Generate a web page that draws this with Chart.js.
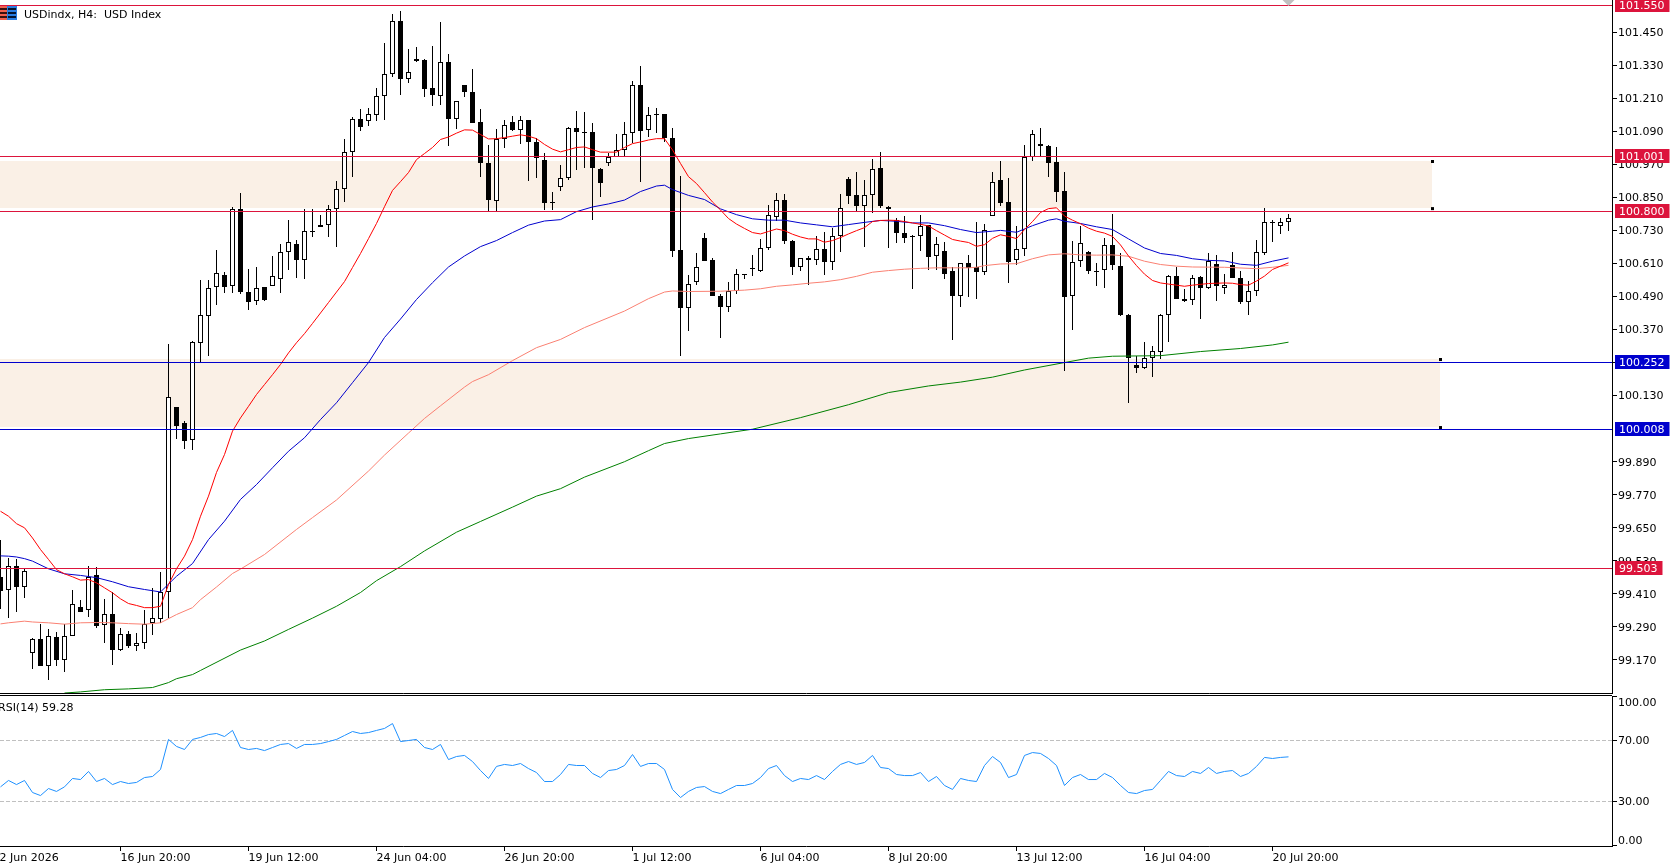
<!DOCTYPE html>
<html>
<head>
<meta charset="utf-8">
<title>USDindx, H4</title>
<style>
  html, body { margin: 0; padding: 0; background: #fff; overflow: hidden; }
  canvas { position: absolute; left: 0; display: block; }
  #priceChart { top: 0; }
  #rsiChart { top: 696px; }
  #rsiTopRule { position: absolute; left: 0; top: 695px; width: 1612px; height: 1px; background: #000; }
</style>
<script src="https://cdn.jsdelivr.net/npm/chart.js@4/dist/chart.umd.min.js"></script>
</head>
<body>
<canvas id="priceChart" width="1673" height="694"></canvas>
<div id="rsiTopRule"></div>
<canvas id="rsiChart" width="1673" height="172"></canvas>
<script>
// ── H4 candles, one entry per bar ──
const opens = [
  99.473,99.425,99.513,99.436,99.196,99.247,99.151,99.254,99.173,99.258,
  99.363,99.352,99.477,99.298,99.338,99.209,99.265,99.224,99.232,99.307,
  99.322,99.417,100.089,100.029,99.969,100.324,100.422,100.525,100.568,100.528,
  100.808,100.507,100.474,100.525,100.528,100.554,100.652,100.681,100.623,100.729,
  100.743,100.750,100.808,100.881,101.015,101.135,101.128,101.149,101.218,101.298,
  101.491,101.280,101.353,101.349,101.247,101.218,101.342,101.138,101.258,101.233,
  101.124,100.975,100.837,101.062,101.124,101.098,101.131,101.051,100.986,100.833,
  100.888,100.921,101.102,101.088,101.088,100.953,100.975,101.000,101.022,101.084,
  101.258,101.095,101.154,101.153,101.066,100.659,100.450,100.543,100.703,100.623,
  100.492,100.454,100.510,100.573,100.595,100.585,100.666,100.781,100.841,100.692,
  100.597,100.630,100.623,100.663,100.616,100.710,100.917,100.859,100.819,100.859,
  100.957,100.815,100.768,100.721,100.711,100.710,100.750,100.637,100.656,100.583,
  100.494,100.612,100.597,100.581,100.783,100.914,100.833,100.623,100.663,101.000,
  101.042,101.037,100.979,100.873,100.492,100.619,100.652,100.583,100.587,100.677,
  100.601,100.423,100.242,100.231,100.267,100.289,100.423,100.565,100.481,100.478,
  100.561,100.523,100.608,100.523,100.605,100.558,100.470,100.510,100.648,100.757,
  100.746,100.761
];
const highs = [
  99.607,99.542,99.538,99.504,99.250,99.302,99.284,99.273,99.299,99.425,
  99.388,99.513,99.509,99.392,99.417,99.287,99.276,99.269,99.350,99.432,
  99.490,100.318,100.089,100.036,100.328,100.548,100.551,100.657,100.579,100.815,
  100.867,100.590,100.597,100.525,100.637,100.681,100.769,100.695,100.808,100.808,
  100.784,100.823,100.910,101.062,101.142,101.171,101.175,101.247,101.411,101.516,
  101.527,101.389,101.396,101.353,101.400,101.487,101.371,101.200,101.258,101.316,
  101.171,101.040,101.098,101.131,101.146,101.146,101.131,101.066,101.011,100.870,
  100.968,101.106,101.164,101.160,101.120,100.957,101.011,101.080,101.124,101.273,
  101.327,101.178,101.175,101.153,101.102,100.928,100.568,100.648,100.721,100.630,
  100.499,100.544,100.590,100.573,100.642,100.700,100.823,100.866,100.863,100.695,
  100.630,100.637,100.710,100.725,100.740,100.863,100.924,100.942,100.913,100.990,
  101.015,100.819,100.775,100.783,100.714,100.786,100.750,100.706,100.688,100.597,
  100.612,100.641,100.761,100.754,100.942,100.982,100.921,100.746,101.040,101.095,
  101.102,101.040,101.033,100.942,100.692,100.746,100.656,100.611,100.703,100.790,
  100.648,100.427,100.272,100.325,100.311,100.427,100.568,100.597,100.518,100.568,
  100.565,100.648,100.641,100.572,100.652,100.583,100.547,100.695,100.812,100.768,
  100.775,100.790
];
const lows = [
  99.358,99.325,99.347,99.398,99.140,99.151,99.099,99.151,99.129,99.258,
  99.347,99.329,99.289,99.234,99.155,99.205,99.216,99.205,99.213,99.263,
  99.307,99.323,99.975,99.939,99.935,100.253,100.276,100.462,100.505,100.505,
  100.502,100.444,100.462,100.476,100.528,100.505,100.588,100.560,100.556,100.709,
  100.743,100.709,100.672,100.836,100.926,101.093,101.109,101.128,101.133,101.287,
  101.222,101.266,101.342,101.217,101.182,101.188,101.037,101.101,101.217,101.120,
  100.926,100.797,100.797,101.030,101.091,101.046,100.912,100.923,100.804,100.807,
  100.873,100.913,100.952,100.957,100.770,100.854,100.964,100.997,100.997,101.049,
  100.906,101.071,101.085,101.051,100.635,100.275,100.367,100.533,100.621,100.493,
  100.341,100.435,100.500,100.556,100.567,100.581,100.661,100.766,100.681,100.568,
  100.585,100.532,100.607,100.571,100.589,100.654,100.828,100.801,100.670,100.794,
  100.812,100.666,100.685,100.687,100.520,100.657,100.589,100.589,100.556,100.335,
  100.454,100.491,100.483,100.571,100.783,100.821,100.542,100.607,100.637,100.982,
  101.000,100.924,100.835,100.222,100.371,100.597,100.574,100.531,100.523,100.589,
  100.422,100.106,100.213,100.227,100.198,100.263,100.327,100.481,100.473,100.462,
  100.411,100.518,100.476,100.502,100.560,100.465,100.425,100.494,100.641,100.690,
  100.719,100.730
];
const closes = [
  99.423,99.512,99.438,99.494,99.247,99.151,99.258,99.173,99.258,99.374,
  99.347,99.473,99.296,99.338,99.209,99.265,99.224,99.232,99.301,99.322,
  99.417,100.125,100.021,99.968,100.325,100.423,100.521,100.576,100.527,100.808,
  100.509,100.473,100.521,100.480,100.565,100.652,100.688,100.623,100.728,100.727,
  100.750,100.808,100.881,101.015,101.135,101.106,101.153,101.218,101.298,101.491,
  101.280,101.305,101.348,101.244,101.222,101.342,101.138,101.200,101.233,101.120,
  100.975,100.843,101.062,101.113,101.098,101.131,101.053,100.993,100.830,100.830,
  100.921,101.102,101.088,101.085,100.957,100.902,100.997,101.022,101.080,101.258,
  101.091,101.149,101.150,101.066,100.657,100.450,100.536,100.597,100.621,100.493,
  100.453,100.510,100.572,100.570,100.591,100.666,100.786,100.841,100.692,100.597,
  100.630,100.623,100.663,100.616,100.710,100.812,100.855,100.819,100.859,100.953,
  100.819,100.808,100.723,100.705,100.706,100.746,100.636,100.681,100.574,100.494,
  100.612,100.594,100.581,100.732,100.906,100.832,100.618,100.663,100.997,101.080,
  101.038,100.977,100.872,100.491,100.616,100.685,100.585,100.580,100.677,100.605,
  100.423,100.267,100.231,100.267,100.292,100.423,100.565,100.483,100.475,100.558,
  100.521,100.619,100.528,100.532,100.560,100.473,100.510,100.652,100.761,100.761,
  100.761,100.775
];

// ── Moving averages ──
const fastMa = [
  99.710,99.692,99.665,99.650,99.613,99.571,99.535,99.498,99.483,99.472,
  99.460,99.462,99.450,99.432,99.414,99.392,99.375,99.368,99.360,99.360,
  99.365,99.444,99.501,99.547,99.607,99.692,99.765,99.851,99.916,100.001,
  100.049,100.091,100.134,100.170,100.206,100.243,100.285,100.322,100.355,100.392,
  100.430,100.468,100.506,100.544,100.595,100.646,100.700,100.755,100.816,100.875,
  100.907,100.940,100.987,101.009,101.031,101.060,101.069,101.083,101.095,101.094,
  101.078,101.062,101.063,101.067,101.072,101.077,101.072,101.063,101.042,101.025,
  101.015,101.023,101.031,101.033,101.023,101.014,101.014,101.014,101.031,101.045,
  101.051,101.058,101.063,101.063,101.022,100.973,100.925,100.900,100.867,100.833,
  100.804,100.773,100.753,100.737,100.722,100.717,100.726,100.735,100.729,100.716,
  100.706,100.699,100.699,100.687,100.693,100.704,100.717,100.729,100.740,100.762,
  100.766,100.767,100.766,100.762,100.757,100.752,100.746,100.729,100.713,100.697,
  100.691,100.686,100.672,100.678,100.701,100.714,100.708,100.700,100.733,100.762,
  100.795,100.809,100.812,100.782,100.767,100.754,100.738,100.727,100.720,100.708,
  100.677,100.637,100.602,100.571,100.548,100.539,100.535,100.531,100.527,100.531,
  100.534,100.537,100.538,100.539,100.538,100.533,100.531,100.546,100.564,100.588,
  100.600,100.612
];
const midMaBars = [0,1,2,3,4,6,8,10,12,14,16,18,20,22,24,26,28,30,32,34,36,38,40,42,44,46,48,50,52,54,56,58,60,62,64,66,68,70,72,74,76,78,80,82,83,84,86,88,90,92,94,96,98,100,102,104,106,108,110,112,114,116,118,120,122,124,125,127,129,131,132,133,135,137,139,141,143,145,147,149,151,153,155,157,159,161];
const midMa = [
  99.548,99.547,99.544,99.538,99.529,99.501,99.483,99.477,99.469,99.454,
  99.436,99.426,99.417,99.474,99.520,99.607,99.674,99.753,99.807,99.868,
  99.928,99.977,100.043,100.104,100.177,100.250,100.341,100.408,100.479,100.540,
  100.597,100.637,100.671,100.693,100.722,100.749,100.764,100.769,100.798,100.815,
  100.826,100.840,100.871,100.891,100.894,100.878,100.857,100.842,100.808,100.787,
  100.772,100.767,100.767,100.757,100.750,100.743,100.751,100.759,100.766,100.763,
  100.757,100.757,100.747,100.733,100.722,100.727,100.730,100.723,100.747,100.767,
  100.772,100.763,100.755,100.743,100.733,100.699,100.666,100.646,100.639,100.627,
  100.621,100.619,100.607,100.603,100.618,100.630
];
const slowMaBars = [0,1,3,4,6,8,10,12,14,16,18,20,22,24,25,27,29,30,33,37,39,42,46,48,51,53,55,58,59,61,64,67,70,73,78,81,83,84,86,90,93,95,97,99,101,103,105,107,109,111,113,115,117,119,121,122,123,125,127,129,131,133,135,137,139,141,143,145,147,149,153,157,159,161];
const slowMa = [
  99.301,99.305,99.311,99.308,99.305,99.300,99.305,99.306,99.305,99.302,
  99.300,99.305,99.335,99.360,99.389,99.435,99.484,99.500,99.553,99.644,
  99.687,99.751,99.856,99.914,99.994,100.047,100.093,100.161,100.181,100.206,
  100.257,100.304,100.334,100.377,100.437,100.482,100.506,100.510,100.508,100.509,
  100.513,100.518,100.527,100.532,100.538,100.543,100.551,100.563,100.578,100.584,
  100.589,100.592,100.594,100.594,100.594,100.596,100.602,100.608,100.609,100.627,
  100.641,100.645,100.641,100.640,100.641,100.636,100.618,100.606,100.600,100.597,
  100.596,100.591,100.596,100.603
];
const trendMaBars = [8,10,13,16,19,21,22,24,25,30,33,36,39,42,45,47,50,53,57,60,64,67,70,73,78,81,83,86,90,94,100,106,111,116,120,124,128,133,136,139,145,150,155,159,161];
const trendMa = [
  99.050,99.054,99.062,99.065,99.070,99.088,99.102,99.117,99.132,99.206,
  99.239,99.281,99.322,99.365,99.415,99.458,99.509,99.566,99.634,99.673,
  99.725,99.765,99.792,99.834,99.890,99.930,99.956,99.974,99.991,100.008,
  100.050,100.097,100.141,100.165,100.179,100.197,100.223,100.250,100.266,100.273,
  100.275,100.290,100.301,100.314,100.324
];

// ── RSI(14), one entry per bar ──
const rsiValues = [
  39.6,43.8,41.1,43.8,35.9,33.9,38.5,36.6,39.6,45.1,
  44.4,49.7,43.1,45.1,41.1,43.1,41.8,42.5,45.7,46.4,
  51.0,70.7,66.1,64.1,70.7,72.0,73.9,74.6,72.6,76.6,
  65.4,64.1,64.8,63.4,65.4,67.4,68.0,64.8,67.4,67.4,
  68.0,69.3,70.7,73.3,75.9,74.6,75.2,76.6,77.9,81.1,
  69.3,70.0,70.7,65.4,64.1,67.4,57.5,59.5,60.2,56.2,
  50.3,45.1,53.0,54.3,53.6,54.9,51.6,49.0,43.1,43.1,
  47.7,54.3,53.6,53.6,48.4,45.7,50.3,51.0,53.6,60.8,
  53.0,54.9,54.9,51.0,37.9,32.6,36.6,39.2,39.8,36.6,
  35.2,37.9,40.5,40.5,41.8,45.7,51.6,53.6,47.0,43.1,
  45.1,44.4,47.0,44.4,49.7,54.3,56.2,54.3,55.6,60.2,
  52.3,51.6,47.7,47.0,47.0,49.0,43.1,46.4,40.5,37.9,
  45.1,43.8,43.1,53.6,59.5,55.6,45.7,47.7,60.2,62.1,
  61.5,58.2,53.6,40.5,45.7,47.7,44.4,44.4,48.4,45.7,
  40.5,35.9,35.2,37.2,37.9,43.8,49.7,47.0,46.4,49.7,
  48.4,52.3,48.4,49.7,50.3,46.4,48.4,53.0,58.9,58.2,
  58.9,59.28
];
const rsiLevels = [70, 30];
const rsiTicks = [100, 70, 30, 0];

// ── Axes ──
const priceTicks = [101.45,101.33,101.21,101.09,100.97,100.85,100.73,100.61,100.49,100.37,100.25,100.13,99.89,99.77,99.65,99.53,99.41,99.29,99.17];
const timeTickBars = [-1,15,31,47,63,79,95,111,127,143,159];
const timeTickLabels = ['12 Jun 2026','16 Jun 20:00','19 Jun 12:00','24 Jun 04:00','26 Jun 20:00','1 Jul 12:00','6 Jul 04:00','8 Jul 20:00','13 Jul 12:00','16 Jul 04:00','20 Jul 20:00'];

// ── Drawn objects: horizontal levels and supply/demand boxes ──
const levelPrices = [101.550, 101.001, 100.800, 100.252, 100.008, 99.503];
const levelColors = ['#DC143C','#DC143C','#DC143C','#0000CD','#0000CD','#DC143C'];
const boxTops = [100.980, 100.261];
const boxBottoms = [100.809, 100.014];
const boxEndBars = [179, 180];
const lastBar = 161;

const FONT = '11px "DejaVu Sans"';
const BARS_VISIBLE = 201.5;   // 1612px of plot at 8px per bar
const X_MIN = -0.0625;
Chart.defaults.font.family = '"DejaVu Sans"';
Chart.defaults.font.size = 11;
Chart.defaults.color = '#000';

const barIndex = opens.map((_, i) => i);
const zip = (bars, vals) => bars.map((x, i) => ({ x, y: vals[i] }));

function maDataset(label, data, color, order) {
  return { type: 'line', label, data, borderColor: color, borderWidth: 1, pointRadius: 0, tension: 0, fill: false, order };
}

// keep both plots at a fixed size, whatever the tick labels measure
function pinAxis(prop, size) {
  return scale => {
    scale[prop] = size;
    scale.paddingLeft = scale.paddingRight = scale.paddingTop = scale.paddingBottom = 0;
  };
}

function sharpenCandles(chart) {
  chart.data.datasets.forEach((ds, i) => {
    if (ds.type !== 'bar') return;
    chart.getDatasetMeta(i).data.forEach(bar => {
      const top = Math.round(Math.min(bar.y, bar.base));
      const bottom = Math.round(Math.max(bar.y, bar.base) + 0.5);
      bar.y = top;
      bar.base = bottom;
      bar.height = bottom - top;
    });
  });
}

const priceMarks = {
  id: 'priceMarks',
  afterDatasetsUpdate: sharpenCandles,
  beforeDatasetsDraw(chart) {
    const { ctx, scales: { x, y } } = chart;
    ctx.save();
    ctx.fillStyle = '#FAF0E6';
    boxEndBars.forEach((bar, i) => {
      const top = Math.floor(y.getPixelForValue(boxTops[i]));
      const bottom = Math.floor(y.getPixelForValue(boxBottoms[i]));
      ctx.fillRect(0, top, Math.floor(x.getPixelForValue(bar)), bottom - top);
    });
    ctx.restore();
  },
  afterDraw(chart) {
    const { ctx, chartArea, scales: { x, y } } = chart;
    ctx.save();
    ctx.font = FONT;
    ctx.textBaseline = 'middle';

    // level lines with their price tags on the axis
    levelPrices.forEach((price, i) => {
      const row = Math.round(y.getPixelForValue(price));
      const text = price.toFixed(3);
      ctx.fillStyle = levelColors[i];
      ctx.fillRect(0, row, chartArea.right, 1);
      ctx.fillRect(1615, row - 7, ctx.measureText(text).width + 9, 14);
      ctx.fillStyle = '#fff';
      ctx.fillText(text, 1619, row + 1.5);
    });

    // shift marker above the last bar
    const tipX = x.getPixelForValue(lastBar);
    ctx.fillStyle = '#C0C0C0';
    ctx.beginPath();
    ctx.moveTo(tipX - 6, 0);
    ctx.lineTo(tipX + 6, 0);
    ctx.lineTo(tipX, 6);
    ctx.closePath();
    ctx.fill();

    // symbol icon and caption
    ctx.fillStyle = '#F0604E';
    ctx.fillRect(0, 6, 7, 14);
    ctx.fillStyle = '#2A7DE1';
    ctx.fillRect(7, 6, 10, 14);
    ctx.fillStyle = '#3A1010';
    [8, 12, 16].forEach(r => ctx.fillRect(0, r, 7, 2));
    ctx.fillStyle = '#06142E';
    [8, 12, 16].forEach(r => ctx.fillRect(8, r, 8, 2));
    ctx.fillStyle = '#000';
    ctx.fillText('USDindx, H4:  USD Index', 24, 15);
    ctx.restore();
  }
};

const rsiMarks = {
  id: 'rsiMarks',
  afterDraw(chart) {
    const { ctx, chartArea, scales: { y } } = chart;
    ctx.save();
    ctx.font = FONT;
    ctx.fillStyle = '#000';
    ctx.textBaseline = 'middle';
    ctx.fillText('RSI(14) 59.28', -2, 12);
    // end labels stay inside the panel
    rsiTicks.forEach(v => {
      const py = Math.min(Math.max(y.getPixelForValue(v), chartArea.top + 6), chartArea.bottom - 6);
      ctx.fillText(v.toFixed(2), 1618, py + 1);
    });
    ctx.restore();
  }
};

// ── Price chart ──
new Chart(document.getElementById('priceChart'), {
  type: 'bar',
  data: {
    datasets: [
      maDataset('EMA fast', zip(barIndex, fastMa), '#FF0000', 1),
      maDataset('EMA mid', zip(midMaBars, midMa), '#0000CD', 2),
      maDataset('EMA slow', zip(slowMaBars, slowMa), '#FA8072', 3),
      maDataset('EMA trend', zip(trendMaBars, trendMa), '#008000', 4),
      {
        type: 'scatter', label: 'Box anchors',
        data: boxEndBars.flatMap((bar, i) => [{ x: bar, y: boxTops[i] }, { x: bar, y: boxBottoms[i] }]),
        pointStyle: 'rect', pointRadius: 2.13, pointBackgroundColor: '#000', pointBorderWidth: 0, order: 0
      },
      {
        type: 'bar', label: 'Bodies',
        data: barIndex.map(i => ({ x: i, y: [Math.min(opens[i], closes[i]), Math.max(opens[i], closes[i])] })),
        backgroundColor: barIndex.map(i => closes[i] >= opens[i] ? '#fff' : '#000'),
        borderColor: '#000', borderWidth: 1, borderSkipped: false, inflateAmount: 0,
        barThickness: 5, grouped: false, order: 5
      },
      {
        type: 'bar', label: 'Wicks',
        data: barIndex.map(i => ({ x: i, y: [lows[i], highs[i]] })),
        backgroundColor: '#000', borderWidth: 0, inflateAmount: 0,
        barThickness: 1, grouped: false, order: 6
      }
    ]
  },
  options: {
    responsive: false,
    animation: false,
    events: [],
    layout: { padding: 0, autoPadding: false },
    plugins: { legend: { display: false }, tooltip: { enabled: false } },
    scales: {
      x: {
        type: 'linear', offset: false, min: X_MIN, max: X_MIN + BARS_VISIBLE,
        grid: { display: false },
        ticks: { display: false },
        border: { display: true, color: '#000', width: 1 },
        afterFit: pinAxis('height', 1)
      },
      y: {
        position: 'right', min: 99.0501, max: 101.5665,
        afterBuildTicks: scale => { scale.ticks = priceTicks.map(value => ({ value })); },
        ticks: { padding: 1, labelOffset: 1, autoSkip: false, callback: v => v.toFixed(3), color: '#000' },
        grid: { drawOnChartArea: false, drawTicks: true, tickLength: 5, color: '#000' },
        border: { display: true, color: '#000', width: 1 },
        afterFit: pinAxis('width', 61)
      }
    }
  },
  plugins: [priceMarks]
});

// ── RSI panel ──
new Chart(document.getElementById('rsiChart'), {
  type: 'line',
  data: {
    datasets: [
      { label: 'RSI', data: zip(barIndex, rsiValues), borderColor: '#1E90FF', borderWidth: 1, pointRadius: 0, tension: 0, order: 0 },
      ...rsiLevels.map(level => ({
        label: 'Level ' + level,
        data: [{ x: X_MIN, y: level }, { x: X_MIN + BARS_VISIBLE, y: level }],
        borderColor: '#C0C0C0', borderWidth: 1, borderDash: [4, 2], pointRadius: 0, tension: 0, order: 1
      }))
    ]
  },
  options: {
    responsive: false,
    animation: false,
    events: [],
    layout: { padding: 0, autoPadding: false },
    plugins: { legend: { display: false }, tooltip: { enabled: false } },
    scales: {
      x: {
        type: 'linear', offset: false, min: X_MIN, max: X_MIN + BARS_VISIBLE,
        afterBuildTicks: scale => { scale.ticks = timeTickBars.map(value => ({ value })); },
        ticks: {
          align: 'start', padding: 1, autoSkip: false, maxRotation: 0, minRotation: 0, color: '#000',
          callback: (v, i) => timeTickLabels[i]
        },
        grid: { drawOnChartArea: false, drawTicks: true, tickLength: 5, color: '#000' },
        border: { display: true, color: '#000', width: 1 },
        afterFit: pinAxis('height', 22)
      },
      y: {
        position: 'right', min: 0.82, max: 99.18,
        // the 0 and 100 marks sit just inside the panel edges
        afterBuildTicks: scale => {
          scale.ticks = rsiTicks.map(v => ({ value: Math.min(Math.max(v, scale.min + 0.4), scale.max - 0.4) }));
        },
        ticks: { display: false },
        grid: { drawOnChartArea: false, drawTicks: true, tickLength: 5, color: '#000' },
        border: { display: true, color: '#000', width: 1 },
        afterFit: pinAxis('width', 61)
      }
    }
  },
  plugins: [rsiMarks]
});
</script>
</body>
</html>
